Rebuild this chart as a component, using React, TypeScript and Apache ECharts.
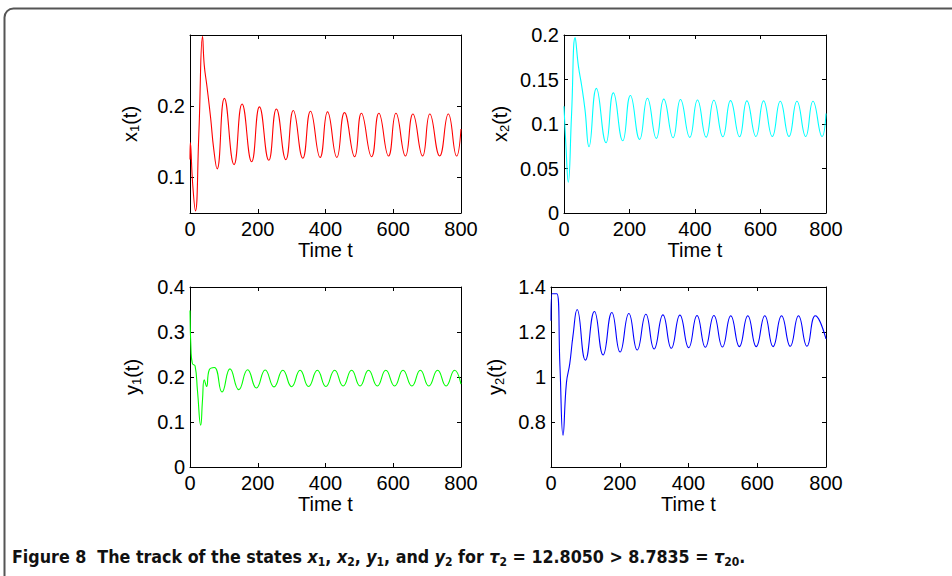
import React, { useEffect, useRef } from "react";
import * as echarts from "echarts";

// ---- data (time t, value) ----
const x1Data: [number, number][] = [
  [0, 0.125], [1, 0.149], [8, 0.09], [16, 0.053], [26, 0.16], [37, 0.298], [42, 0.258], [50, 0.228], [61, 0.183], [70, 0.14], [80, 0.112],
  [101.5, 0.211], [130, 0.118], [153.7, 0.203], [182, 0.122], [205, 0.199], [232.6, 0.124], [255, 0.196], [283, 0.125],
  [305, 0.194], [333, 0.127], [355.7, 0.193], [384, 0.128], [406, 0.192], [433.5, 0.128], [456, 0.191], [486, 0.129],
  [506, 0.19], [536, 0.129], [557.6, 0.19], [586, 0.13], [608, 0.19], [636, 0.13], [658, 0.189], [686.6, 0.13],
  [708, 0.189], [737, 0.13], [762.6, 0.189], [787, 0.13], [800, 0.168],
];
const x2Data: [number, number][] = [
  [0, 0.12], [6, 0.075], [13, 0.0345], [23, 0.11], [34, 0.197], [44, 0.165], [54, 0.143], [64, 0.1165], [76.4, 0.0745],
  [98.9, 0.14], [128.4, 0.079], [150.8, 0.135], [179.4, 0.0812], [202.8, 0.132], [231, 0.0827], [254.8, 0.129], [282, 0.0838],
  [304.7, 0.128], [333, 0.0846], [355.7, 0.1275], [384, 0.085], [407.6, 0.127], [434, 0.0853], [457.6, 0.1267], [485, 0.0857],
  [508.5, 0.1263], [536, 0.0857], [558.5, 0.126], [586, 0.086], [609.4, 0.126], [636, 0.086], [660.4, 0.1256], [687, 0.086],
  [711.3, 0.1256], [738, 0.086], [760.3, 0.1256], [788, 0.086], [800, 0.1117],
];
const y1Data: [number, number][] = [
  [0, 0.348], [3, 0.26], [7, 0.23], [15, 0.2245], [22, 0.17], [31.6, 0.093], [37, 0.15], [42, 0.194], [49, 0.179], [57, 0.216],
  [72, 0.221], [94.5, 0.1667], [118, 0.218], [144, 0.172], [170, 0.216], [196, 0.1756], [222, 0.2156], [248, 0.178],
  [274, 0.215], [300, 0.1785], [325, 0.215], [350, 0.179], [376, 0.215], [401, 0.179], [427, 0.215], [452, 0.18],
  [477, 0.215], [502, 0.18], [527, 0.215], [553, 0.18], [578, 0.215], [604, 0.18], [629, 0.215], [655, 0.18],
  [680, 0.215], [705, 0.18], [731, 0.215], [756, 0.18], [781, 0.215], [800, 0.184],
];
const y2Data: [number, number][] = [
  [0, 1.25], [3, 1.37], [17, 1.37], [26, 1.05], [35, 0.741], [45, 0.976], [54.5, 1.058], [64, 1.184], [76, 1.3],
  [100, 1.075], [126.4, 1.291], [151.6, 1.098], [177, 1.287], [201, 1.111], [226.5, 1.282], [250.8, 1.12], [276, 1.279],
  [300, 1.1246], [325.6, 1.276], [350, 1.1275], [375, 1.275], [400.5, 1.1305], [424.8, 1.2735], [449, 1.132], [474, 1.2735],
  [498.7, 1.1335], [523, 1.272], [548, 1.135], [572.5, 1.272], [597, 1.135], [622, 1.272], [646, 1.135], [670.7, 1.272],
  [696, 1.1365], [720, 1.272], [744.6, 1.1365], [769, 1.272], [800, 1.169],
];

// ---- tick values ----
const xTicks = [0, 200, 400, 600, 800];
const x1Ticks = [0.1, 0.2];
const x2Ticks = [0, 0.05, 0.1, 0.15, 0.2];
const y1Ticks = [0, 0.1, 0.2, 0.3, 0.4];
const y2Ticks = [0.8, 1, 1.2, 1.4];

const xTitle = "Time t";
const caption =
  "{b|Figure 8  The track of the states }{i|x}{s|1}{b|, }{i|x}{s|2}{b|, }{i|y}{s|1}{b|, and }{i|y}{s|2}{b| for }{i|τ}{s|2}{b| = 12.8050 > 8.7835 = }{i|τ}{s|20}{b|.}";

const FONT = "'Liberation Sans', Arial, Helvetica, sans-serif";

export default function App() {
  const ref = useRef<HTMLDivElement>(null);
  useEffect(() => {
    if (!ref.current) return;
    const chart = echarts.init(ref.current, undefined, { renderer: "svg" });

    const panels = [
      { grid: { left: 190, top: 35, width: 271, height: 178 }, data: x1Data, color: "#ff0000", min: 0.05, max: 0.3, interval: 0.05, ticks: x1Ticks, v: "x", sub: "1", yGap: 49, xGap: 26 },
      { grid: { left: 564, top: 35, width: 262, height: 178 }, data: x2Data, color: "#00ffff", min: 0, max: 0.2, interval: 0.05, ticks: x2Ticks, v: "x", sub: "2", yGap: 53, xGap: 26 },
      { grid: { left: 190, top: 287, width: 271, height: 180 }, data: y1Data, color: "#00ff00", min: 0, max: 0.4, interval: 0.1, ticks: y1Ticks, v: "y", sub: "1", yGap: 47, xGap: 23.5 },
      { grid: { left: 551, top: 287, width: 275, height: 180 }, data: y2Data, color: "#0000ff", min: 0.6, max: 1.4, interval: 0.2, ticks: y2Ticks, v: "y", sub: "2", yGap: 45, xGap: 23.5 },
    ];

    const axisLine = { show: true, onZero: false, lineStyle: { color: "#000", width: 1 } };
    const label = { color: "#000", fontSize: 20, fontFamily: FONT };

    const grids: any[] = [];
    const xAxes: any[] = [];
    const yAxes: any[] = [];
    const series: any[] = [];
    const topX: any[] = [];
    const rightY: any[] = [];

    panels.forEach((p, i) => {
      grids.push({ ...p.grid, containLabel: false });
      const xBase = {
        type: "value", gridIndex: i, min: 0, max: 800, interval: 200,
        splitLine: { show: false }, axisLine,
      };
      xAxes.push({
        ...xBase, position: "bottom",
        axisTick: { show: true, inside: true, length: 4, lineStyle: { color: "#000" }, customValues: xTicks },
        axisLabel: { ...label, margin: 6, customValues: xTicks },
        name: xTitle, nameLocation: "middle", nameGap: p.xGap,
        nameTextStyle: { color: "#000", fontSize: 20, fontFamily: FONT },
      });
      topX.push({
        ...xBase, position: "top",
        axisTick: { show: true, inside: true, length: 4, lineStyle: { color: "#000" }, customValues: xTicks },
        axisLabel: { show: false },
      });
      const yBase = {
        type: "value", gridIndex: i, min: p.min, max: p.max, interval: p.interval,
        splitLine: { show: false }, axisLine,
      };
      yAxes.push({
        ...yBase, position: "left",
        axisTick: { show: true, inside: true, length: 4, lineStyle: { color: "#000" }, customValues: p.ticks },
        axisLabel: { ...label, margin: 5, customValues: p.ticks },
        name: `{a|${p.v}}{s|${p.sub}}{a|(t)}`, nameLocation: "middle", nameGap: p.yGap,
        nameTextStyle: {
          color: "#000", fontSize: 20, fontFamily: FONT,
          rich: {
            a: { fontSize: 20, fontFamily: FONT, color: "#000", lineHeight: 22, verticalAlign: "middle" },
            s: { fontSize: 13, fontFamily: FONT, color: "#000", lineHeight: 13, verticalAlign: "bottom" },
          },
        },
      });
      rightY.push({
        ...yBase, position: "right",
        axisTick: { show: true, inside: true, length: 4, lineStyle: { color: "#000" }, customValues: p.ticks },
        axisLabel: { show: false },
      });
      series.push({
        type: "line", xAxisIndex: i, yAxisIndex: i, data: p.data, smooth: 0.5,
        showSymbol: false, symbol: "none", lineStyle: { color: p.color, width: 1.1 }, silent: true,
      });
    });

    const capBase = { fontFamily: "'Liberation Sans Narrow', 'DejaVu Sans Condensed', sans-serif", fill: "#111", fontWeight: "bold" };

    chart.setOption({
      animation: false,
      backgroundColor: "#fff",
      grid: grids,
      xAxis: [...xAxes, ...topX],
      yAxis: [...yAxes, ...rightY],
      series,
      graphic: [
        {
          type: "rect", silent: true,
          shape: { x: 4.5, y: 8.5, width: 980, height: 640, r: 9 },
          style: { fill: "none", stroke: "#555", lineWidth: 2 },
        },
        {
          type: "text", x: 12, y: 557, silent: true,
          style: {
            text: caption, verticalAlign: "middle", ...capBase, fontSize: 17.7,
            rich: {
              b: { ...capBase, fontSize: 17.7, lineHeight: 22, verticalAlign: "middle" },
              i: { ...capBase, fontSize: 17.7, fontStyle: "italic", lineHeight: 22, verticalAlign: "middle" },
              s: { ...capBase, fontSize: 12, lineHeight: 12, verticalAlign: "bottom" },
            },
          },
        },
      ],
    });
    return () => chart.dispose();
  }, []);
  return <div ref={ref} style={{ position: "fixed", left: 0, top: 0, width: 952, height: 576 }} />;
}
